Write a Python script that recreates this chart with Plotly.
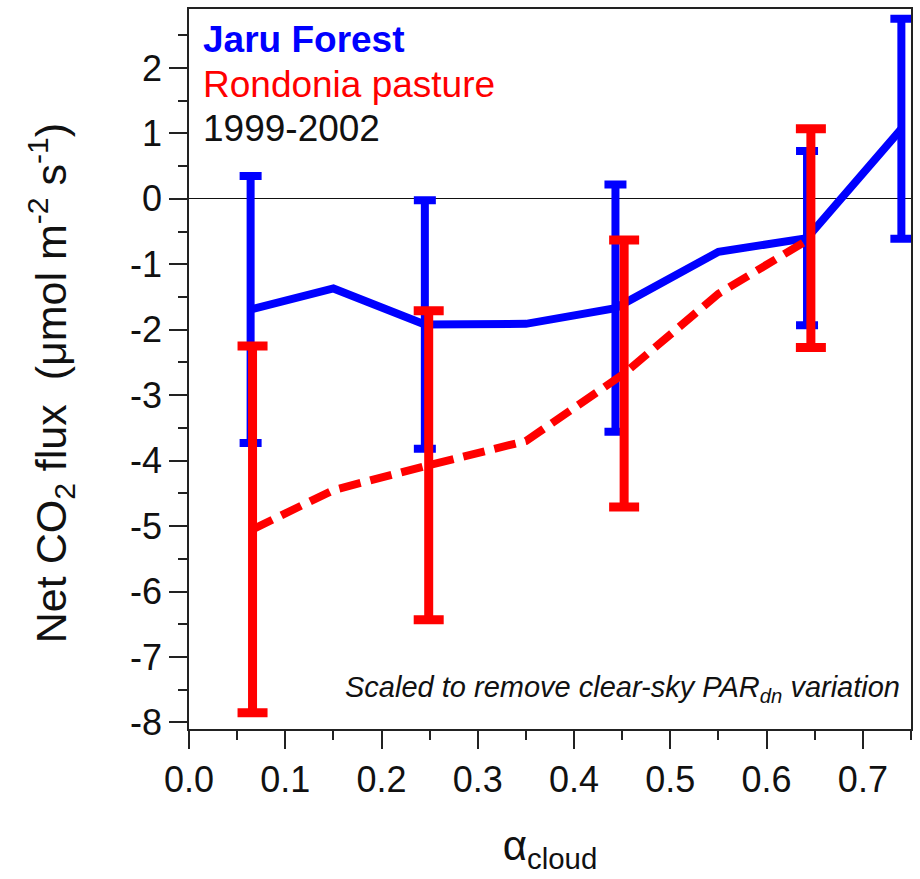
import plotly.graph_objects as go

# Jaru Forest (blue, solid) — mean net CO2 flux vs cloud fraction
forest_x = [0.064, 0.15, 0.245, 0.35, 0.443, 0.55, 0.642, 0.74]
forest_y = [-1.69, -1.37, -1.92, -1.91, -1.67, -0.81, -0.60, 1.07]
# points carrying a ±1 sd bar
forest_bar_x = [0.064, 0.245, 0.443, 0.642, 0.74]
forest_bar_y = [-1.69, -1.92, -1.67, -0.60, 1.07]
forest_bar_sd = [2.04, 1.90, 1.89, 1.33, 1.68]

# Rondonia pasture (red, dashed)
pasture_x = [0.066, 0.15, 0.249, 0.35, 0.452, 0.55, 0.646]
pasture_y = [-5.05, -4.45, -4.07, -3.70, -2.67, -1.45, -0.60]
pasture_bar_x = [0.066, 0.249, 0.452, 0.646]
pasture_bar_y = [-5.05, -4.07, -2.67, -0.60]
pasture_bar_sd = [2.80, 2.36, 2.04, 1.67]

x_tick_vals = [0.0, 0.1, 0.2, 0.3, 0.4, 0.5, 0.6, 0.7]
x_tick_text = ["0.0", "0.1", "0.2", "0.3", "0.4", "0.5", "0.6", "0.7"]
y_tick_vals = [-8, -7, -6, -5, -4, -3, -2, -1, 0, 1, 2]
y_tick_text = ["-8", "-7", "-6", "-5", "-4", "-3", "-2", "-1", "0", "1", "2"]

BLUE = "#0000ff"
RED = "#ff0000"
INK = "#111111"
FONT = "Liberation Sans, Arial, sans-serif"

fig = go.Figure()

fig.add_trace(go.Scatter(
    x=forest_x, y=forest_y, mode="lines",
    line=dict(color=BLUE, width=8), showlegend=False, hoverinfo="skip"))
fig.add_trace(go.Scatter(
    x=forest_bar_x, y=forest_bar_y, mode="markers",
    marker=dict(size=1, opacity=0),
    error_y=dict(type="data", array=forest_bar_sd, symmetric=True,
                 color=BLUE, thickness=8, width=11),
    showlegend=False, hoverinfo="skip"))

fig.add_trace(go.Scatter(
    x=pasture_x, y=pasture_y, mode="lines",
    line=dict(color=RED, width=8, dash="22px,10px"),
    showlegend=False, hoverinfo="skip"))
fig.add_trace(go.Scatter(
    x=pasture_bar_x, y=pasture_bar_y, mode="markers",
    marker=dict(size=1, opacity=0),
    error_y=dict(type="data", array=pasture_bar_sd, symmetric=True,
                 color=RED, thickness=9, width=15),
    showlegend=False, hoverinfo="skip"))

axis_common = dict(
    showline=True, linecolor="#222222", linewidth=1.5, mirror=True,
    ticks="outside", ticklen=18, tickwidth=1.5, tickcolor="#222222",
    showgrid=False,
    tickfont=dict(family=FONT, size=36, color=INK),
)

fig.update_xaxes(
    range=[0, 0.75], tickvals=x_tick_vals, ticktext=x_tick_text,
    zeroline=False,
    minor=dict(ticks="outside", ticklen=9, tickwidth=1.5, tickcolor="#222222",
               dtick=0.05, tick0=0, showgrid=False),
    title=dict(text="α<sub>cloud</sub>", font=dict(family=FONT, size=42, color=INK),
               standoff=32),
    **axis_common)

fig.update_yaxes(
    range=[-8.1, 2.9], tickvals=y_tick_vals, ticktext=y_tick_text,
    zeroline=True, zerolinecolor=INK, zerolinewidth=1.2,
    minor=dict(ticks="outside", ticklen=9, tickwidth=1.5, tickcolor="#222222",
               dtick=0.5, tick0=0, showgrid=False),
    **axis_common)

annotations = [
    dict(text="<b>Jaru Forest</b>", x=0.017, y=0.957, font=dict(size=37, color=BLUE)),
    dict(text="Rondonia pasture", x=0.017, y=0.895, font=dict(size=37, color=RED)),
    dict(text="1999-2002", x=0.017, y=0.834, font=dict(size=37, color=INK)),
]
for a in annotations:
    a.update(xref="paper", yref="paper", xanchor="left", yanchor="middle",
             showarrow=False)
    a["font"]["family"] = FONT
fig.update_layout(annotations=annotations)

# vertical y-axis title
fig.add_annotation(
    text="Net CO<sub>2</sub> flux  (μmol m<sup>-2</sup> s<sup>-1</sup>)",
    xref="paper", yref="paper", x=-0.19, y=0.48, xanchor="center", yanchor="middle",
    textangle=-90, showarrow=False, font=dict(family=FONT, size=43, color=INK))

fig.add_annotation(
    text="<i>Scaled to remove clear-sky PAR<sub>dn</sub> variation</i>",
    xref="paper", yref="paper", x=0.987, y=0.055, xanchor="right", yanchor="middle",
    showarrow=False, font=dict(family=FONT, size=29, color=INK))

fig.update_layout(
    width=920, height=879,
    margin=dict(l=189, r=8, t=7, b=150),
    paper_bgcolor="white", plot_bgcolor="white",
)

fig.write_html("out.html")
